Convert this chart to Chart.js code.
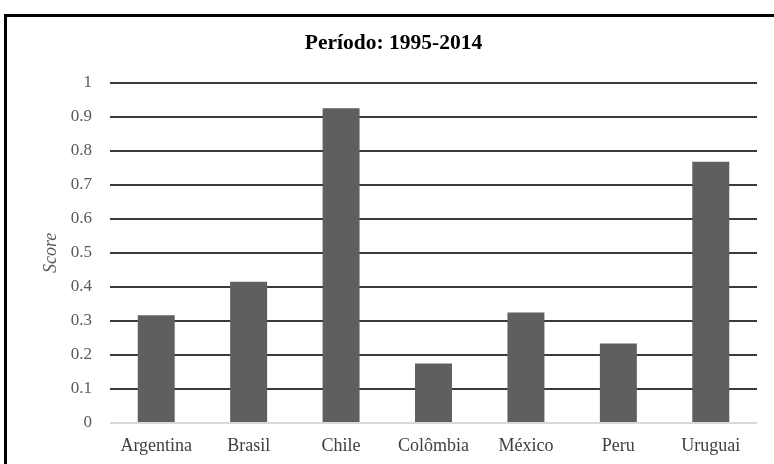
<!DOCTYPE html>
<html>
<head>
<meta charset="utf-8">
<script src="https://cdn.jsdelivr.net/npm/chart.js@4/dist/chart.umd.min.js"></script>
<style>
  html, body { margin: 0; padding: 0; background: #fff; }
  #wrap { width: 774px; height: 464px; position: relative; }
</style>
</head>
<body>
<div id="wrap"><canvas id="scoreChart"></canvas></div>
<script>
// Data
const countries = ['Argentina', 'Brasil', 'Chile', 'Colômbia', 'México', 'Peru', 'Uruguai'];
const scores = [0.317, 0.415, 0.925, 0.175, 0.325, 0.234, 0.768];
const yTicks = [0, 0.1, 0.2, 0.3, 0.4, 0.5, 0.6, 0.7, 0.8, 0.9, 1];

const serif = '"Liberation Serif", "Times New Roman", serif';

// Frame around the picture (clipped on the right and bottom)
const framePlugin = {
    id: 'frame',
    afterDraw(chart) {
        const c = chart.ctx;
        c.save();
        c.fillStyle = '#000';
        c.fillRect(4, 14, 3, 460);
        c.fillRect(4, 14, 780, 3);
        c.restore();
    }
};

const ctx = document.getElementById('scoreChart').getContext('2d');
const scoreChart = new Chart(ctx, {
    type: 'bar',
    data: {
        labels: countries,
        datasets: [{
            data: scores,
            backgroundColor: '#5f5f5f',
            borderWidth: 0,
            categoryPercentage: 1,
            barPercentage: 0.4
        }]
    },
    options: {
        responsive: true,
        maintainAspectRatio: false,
        animation: false,
        layout: {
            padding: { left: 30, right: 17, top: 0, bottom: 0 }
        },
        plugins: {
            legend: { display: false },
            tooltip: { enabled: false },
            title: {
                display: true,
                text: 'Período: 1995-2014',
                color: '#000',
                font: { family: serif, size: 21.5, weight: 'bold' },
                padding: { top: 31, bottom: 26 }
            }
        },
        scales: {
            x: {
                grid: { display: false },
                border: { display: false },
                ticks: {
                    color: '#404040',
                    font: { family: serif, size: 18 },
                    padding: 4,
                    maxRotation: 0
                },
                afterFit(scale) { scale.height = 41; }
            },
            y: {
                min: 0,
                max: 1,
                afterBuildTicks(scale) {
                    scale.ticks = yTicks.map(v => ({ value: v }));
                },
                grid: {
                    drawTicks: false,
                    lineWidth: 2,
                    color: c => (c.tick && c.tick.value === 0) ? '#d9d9d9' : '#3a3a3a'
                },
                border: { display: false },
                ticks: {
                    color: '#595959',
                    font: { family: serif, size: 17 },
                    padding: 18,
                    callback: v => String(Math.round(v * 10) / 10)
                },
                title: {
                    display: true,
                    text: 'Score',
                    color: '#595959',
                    font: { family: serif, size: 18, style: 'italic' },
                    padding: { top: 10, bottom: 0 }
                },
                afterFit(scale) { scale.width = 80; }
            }
        }
    },
    plugins: [framePlugin]
});
</script>
</body>
</html>
